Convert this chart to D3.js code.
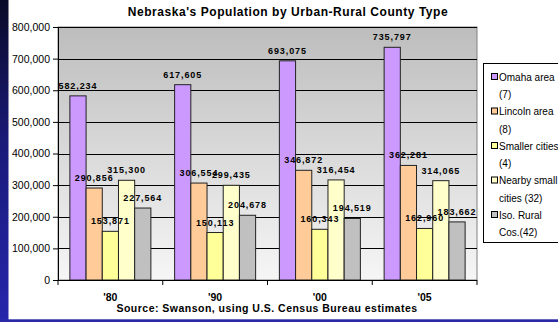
<!DOCTYPE html>
<html><head><meta charset="utf-8">
<script src="https://cdn.jsdelivr.net/npm/d3@7"></script>
<style>
html,body{margin:0;padding:0;background:#fff;}
svg{display:block;font-family:"Liberation Sans",Arial,sans-serif;}
</style></head>
<body>
<svg id="chart" width="558" height="322"></svg>
<script>
const categories = ["'80", "'90", "'00", "'05"];
const seriesNames = ["Omaha area (7)", "Lincoln area (8)", "Smaller cities (4)", "Nearby small cities (32)", "Iso. Rural Cos.(42)"];
const legendLines = [["Omaha area", "(7)"], ["Lincoln area", "(8)"], ["Smaller cities", "(4)"], ["Nearby small", "cities (32)"], ["Iso. Rural", "Cos.(42)"]];
const omaha   = [582234, 617605, 693075, 735797];
const lincoln = [290856, 306554, 346872, 362281];
const smaller = [153871, 150113, 160343, 162960];
const nearby  = [315300, 299435, 316454, 314065];
const rural   = [227564, 204678, 194519, 183662];
const colors = ["#cc99ff", "#ffcc99", "#ffff99", "#ffffcc", "#c0c0c0"];
const yTicks = [0, 100000, 200000, 300000, 400000, 500000, 600000, 700000, 800000];

const series = [omaha, lincoln, smaller, nearby, rural];
const svg = d3.select("#chart");
const defs = svg.append("defs");

const lg = defs.append("linearGradient").attr("id", "side").attr("x1", 0).attr("y1", 0).attr("x2", 0).attr("y2", 1);
lg.append("stop").attr("offset", "0%").attr("stop-color", "#0a0a28");
lg.append("stop").attr("offset", "45%").attr("stop-color", "#1a1a7a");
lg.append("stop").attr("offset", "100%").attr("stop-color", "#2626ac");
const pg = defs.append("linearGradient").attr("id", "plotbg").attr("x1", 0).attr("y1", 0).attr("x2", 0).attr("y2", 1);
pg.append("stop").attr("offset", "0%").attr("stop-color", "#bdbdbd");
pg.append("stop").attr("offset", "100%").attr("stop-color", "#f6f6f6");

// page decoration
svg.append("rect").attr("x", 0).attr("y", 0).attr("width", 8.5).attr("height", 322).attr("fill", "url(#side)");
svg.append("rect").attr("x", 0).attr("y", 319.3).attr("width", 558).attr("height", 2.7).attr("fill", "#2a2aa8");

const L = 58, R = 477, T = 27, B = 280;
const x = d3.scaleBand().domain(categories).range([L, R]).padding(0);
const groupW = 81;
const xi = d3.scaleBand().domain(d3.range(series.length)).range([(x.bandwidth() - groupW) / 2, (x.bandwidth() + groupW) / 2]).padding(0);
const y = d3.scaleLinear().domain([0, 800000]).range([B, T]);

// plot background
svg.append("rect").attr("x", L).attr("y", T).attr("width", R - L).attr("height", B - T)
  .attr("fill", "url(#plotbg)").attr("stroke", "#808080").attr("stroke-width", 1);

// gridlines
svg.append("g").selectAll("line").data(yTicks.filter(d => d > 0)).join("line")
  .attr("x1", L).attr("x2", R)
  .attr("y1", d => Math.round(y(d)) + 0.5).attr("y2", d => Math.round(y(d)) + 0.5)
  .attr("stroke", "#000").attr("stroke-width", 1);

// bars
const groups = svg.append("g").selectAll("g").data(categories).join("g")
  .attr("transform", d => `translate(${x(d)},0)`);
groups.selectAll("rect").data((c, ci) => series.map((s, si) => ({si, v: s[ci]}))).join("rect")
  .attr("x", d => xi(d.si))
  .attr("y", d => y(d.v))
  .attr("width", xi.bandwidth())
  .attr("height", d => B - y(d.v))
  .attr("fill", d => colors[d.si])
  .attr("stroke", "#222").attr("stroke-width", 1);

// y axis
const yAxis = d3.axisLeft(y).tickValues(yTicks).tickFormat(d3.format(",")).tickSizeInner(5).tickSizeOuter(0).tickPadding(3);
const ya = svg.append("g").attr("transform", `translate(${L},0)`).call(yAxis);
ya.selectAll("text").attr("font-size", "10.5px").attr("fill", "#000").attr("font-family", "Liberation Sans, Arial, sans-serif");
ya.selectAll("line").attr("stroke", "#000");
ya.select(".domain").attr("stroke", "#000");

// x axis
const xa = svg.append("g").attr("transform", `translate(0,${B})`);
xa.append("line").attr("x1", L).attr("x2", R).attr("y1", 0.5).attr("y2", 0.5).attr("stroke", "#000");
xa.selectAll("line.t").data(categories.map(c => x(c)).concat([R])).join("line").attr("class", "t")
  .attr("x1", d => d).attr("x2", d => d).attr("y1", 0).attr("y2", 5).attr("stroke", "#000");
xa.selectAll("text").data(categories).join("text")
  .attr("x", d => x(d) + x.bandwidth() / 2).attr("y", 20.5)
  .attr("text-anchor", "middle").attr("font-weight", "bold").attr("font-size", "10.5px").text(d => d);

// data labels
groups.selectAll("text.lbl").data((c, ci) => series.map((s, si) => ({si, v: s[ci]}))).join("text")
  .attr("class", "lbl")
  .attr("x", d => xi(d.si) + xi.bandwidth() / 2)
  .attr("y", d => y(d.v) - 7)
  .attr("text-anchor", "middle").attr("font-weight", "bold").attr("font-size", "9px")
  .attr("letter-spacing", "0.9px").attr("fill", "#000")
  .text(d => d3.format(",")(d.v));

// title
svg.append("text").attr("x", 288).attr("y", 16).attr("text-anchor", "middle")
  .attr("font-weight", "bold").attr("font-size", "12px").attr("letter-spacing", "0.55px")
  .text("Nebraska's Population by Urban-Rural County Type");

// source
svg.append("text").attr("x", 267).attr("y", 311.5).attr("text-anchor", "middle")
  .attr("font-weight", "bold").attr("font-size", "10.5px").attr("letter-spacing", "0.48px")
  .text("Source: Swanson, using U.S. Census Bureau estimates");

// legend
const leg = svg.append("g");
leg.append("rect").attr("x", 483.5).attr("y", 63.5).attr("width", 90).attr("height", 179).attr("fill", "#fff").attr("stroke", "#000");
const legY = d3.scaleLinear().domain([0, 4]).range([77, 215]);
const items = leg.selectAll("g").data(seriesNames).join("g").attr("transform", (d, i) => `translate(0,${legY(i)})`);
items.append("rect").attr("x", 491.5).attr("y", -3.5).attr("width", 6).attr("height", 6)
  .attr("fill", (d, i) => colors[i]).attr("stroke", "#000");
items.selectAll("text").data((d, i) => legendLines[i]).join("text")
  .attr("x", 499).attr("y", (d, j) => 3.5 + j * 17.5)
  .attr("font-size", "10px").attr("fill", "#000").text(d => d);
</script>
</body></html>
